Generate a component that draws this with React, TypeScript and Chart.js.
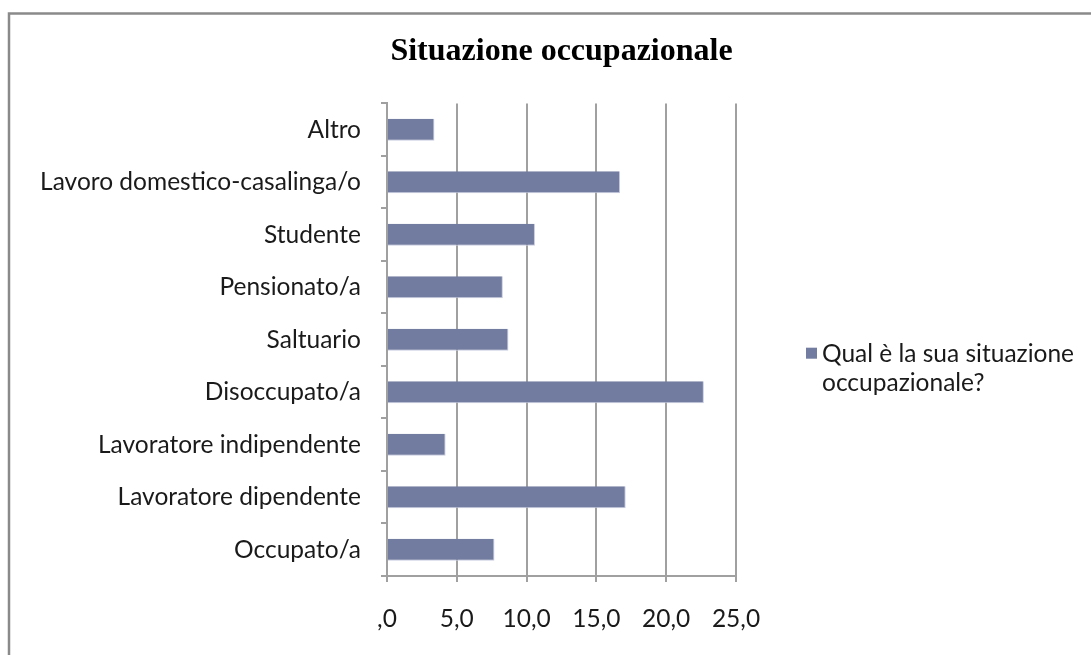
import React, { useEffect, useRef } from "react";
import { Chart, registerables } from "chart.js";

Chart.register(...registerables);

const categories = [
  "Altro",
  "Lavoro domestico-casalinga/o",
  "Studente",
  "Pensionato/a",
  "Saltuario",
  "Disoccupato/a",
  "Lavoratore indipendente",
  "Lavoratore dipendente",
  "Occupato/a",
];
const values = [3.4, 16.7, 10.6, 8.3, 8.7, 22.7, 4.2, 17.1, 7.7];
const seriesLabel = "Qual è la sua situazione occupazionale?";
const xTickLabels = [",0", "5,0", "10,0", "15,0", "20,0", "25,0"];
const chartTitle = "Situazione occupazionale";

const BAR_COLOR = "#727ca0";
const LABEL_FONT = "Lato";
const LABEL_SIZE = 24.5;

function wrapWords(ctx: CanvasRenderingContext2D, text: string, maxW: number): string[] {
  const words = text.split(" ");
  const lines: string[] = [];
  let cur = "";
  for (const w of words) {
    const t = cur ? cur + " " + w : w;
    if (ctx.measureText(t).width > maxW && cur) {
      lines.push(cur);
      cur = w;
    } else cur = t;
  }
  if (cur) lines.push(cur);
  return lines;
}

const framePlugin = {
  id: "frame",
  beforeDraw(chart: any) {
    const ctx = chart.ctx;
    ctx.save();
    ctx.fillStyle = "#ffffff";
    ctx.fillRect(0, 0, chart.width, chart.height);
    ctx.strokeStyle = "#8a8a8a";
    ctx.lineWidth = 2.5;
    ctx.strokeRect(9, 13.5, chart.width + 20, chart.height + 20);
    ctx.restore();
  },
};

const sideLegendPlugin = {
  id: "sideLegend",
  afterDraw(chart: any) {
    const ctx = chart.ctx;
    const ds = chart.data.datasets[0];
    const area = chart.chartArea;
    ctx.save();
    ctx.font = `${LABEL_SIZE}px ${LABEL_FONT}`;
    const lines = wrapWords(ctx, ds.label, 290);
    const boxX = area.right + 70;
    const firstY = (area.top + area.bottom) / 2 + 14;
    const lineH = 29;
    ctx.fillStyle = ds.backgroundColor;
    ctx.fillRect(boxX, firstY - 6, 11, 11);
    ctx.fillStyle = "#1a1a1a";
    ctx.textBaseline = "middle";
    ctx.textAlign = "left";
    lines.forEach((ln, i) => ctx.fillText(ln, boxX + 16, firstY + i * lineH));
    ctx.restore();
  },
};

export default function App() {
  const ref = useRef<HTMLCanvasElement | null>(null);
  useEffect(() => {
    if (!ref.current) return;
    const chart = new Chart(ref.current, {
      type: "bar",
      data: {
        labels: categories,
        datasets: [
          {
            label: seriesLabel,
            data: values,
            backgroundColor: BAR_COLOR,
            borderColor: "#c9cde0",
            borderWidth: { right: 1, top: 0, bottom: 1, left: 0 },
            borderSkipped: false,
            barPercentage: 0.42,
            categoryPercentage: 1,
          },
        ],
      },
      plugins: [framePlugin, sideLegendPlugin],
      options: {
        indexAxis: "y",
        animation: false,
        responsive: false,
        maintainAspectRatio: false,
        layout: { padding: { left: 0, right: 355, top: 0, bottom: 0 } },
        plugins: {
          legend: { display: false },
          tooltip: { enabled: false },
          title: {
            display: true,
            text: chartTitle,
            fullSize: false,
            color: "#000",
            font: { family: "Liberation Serif", size: 32, weight: "bold", lineHeight: 1.2 },
            padding: { top: 33, bottom: 32 },
          },
        },
        scales: {
          x: {
            min: 0,
            max: 25,
            ticks: {
              stepSize: 5,
              color: "#1a1a1a",
              font: { family: LABEL_FONT, size: LABEL_SIZE },
              padding: 22,
              callback: (_v: any, i: number) => xTickLabels[i],
            },
            grid: { color: "#a0a0a0", lineWidth: 2, tickLength: 6, drawTicks: true },
            border: { display: true, color: "#a0a0a0", width: 2 },
            afterFit: (s: any) => {
              s.height = 79;
            },
          },
          y: {
            ticks: {
              color: "#1a1a1a",
              font: { family: LABEL_FONT, size: LABEL_SIZE },
              padding: 20,
            },
            grid: { drawOnChartArea: false, drawTicks: true, tickLength: 6, color: "#a0a0a0", lineWidth: 2 },
            border: { display: true, color: "#a0a0a0", width: 2 },
            afterFit: (s: any) => {
              s.width = 387;
            },
          },
        },
      },
    });
    return () => chart.destroy();
  }, []);
  return (
    <div style={{ position: "fixed", left: 0, top: 0, width: 1091, height: 655, background: "#fff" }}>
      <canvas ref={ref} width={1091} height={655} style={{ width: 1091, height: 655 }} />
    </div>
  );
}
